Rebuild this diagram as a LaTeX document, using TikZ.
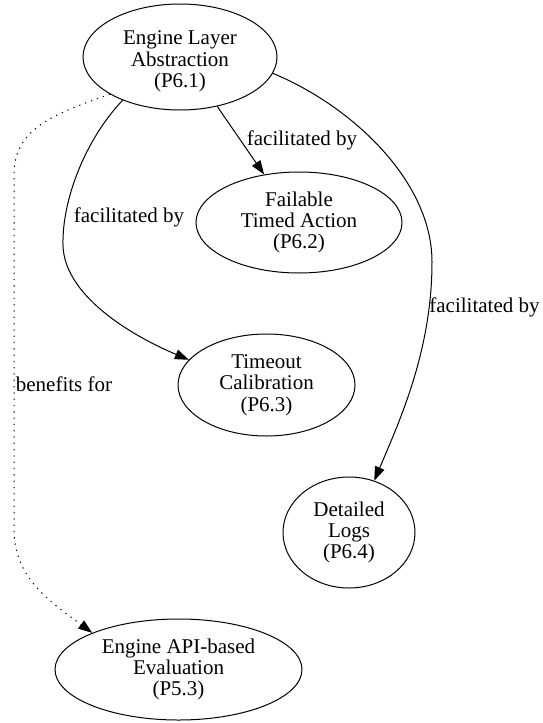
\documentclass[tikz,border=0pt]{standalone}
\usepackage{fontspec}
\setmainfont{Liberation Serif}
\usetikzlibrary{shapes.geometric,arrows.meta}
% taller first line, used to set a node's text a little lower
\newcommand\lowerstrut{\rule{0pt}{22.5pt}}
\begin{document}
\begin{tikzpicture}[x=1pt,y=-1pt,
  labelfont/.style={font=\fontsize{21pt}{21.3pt}\selectfont},
  topic/.style={draw, ellipse, inner sep=0pt, align=center, line width=1pt, labelfont},
  link/.style={-{Triangle[length=14pt,width=10pt]}, line width=1pt},
  weaklink/.style={link, dash pattern=on 1.3pt off 5pt},
  elabel/.style={anchor=base, inner sep=0pt, labelfont}]
\useasboundingbox (0,0) rectangle (543,723);

% pattern nodes
\node[topic, minimum width=194pt, minimum height=106pt] (p61) at (180,57)
  {\lowerstrut Engine Layer\\Abstraction\\(P6.1)};
\node[topic, minimum width=206pt, minimum height=101pt] (p62) at (299,222.5)
  {Failable\\Timed Action\\(P6.2)};
\node[topic, minimum width=177pt, minimum height=102pt] (p63) at (266.5,385)
  {Timeout\\Calibration\\(P6.3)};
\node[topic, minimum width=132pt, minimum height=111pt] (p64) at (349,532.5)
  {Detailed\\Logs\\(P6.4)};
\node[topic, minimum width=247pt, minimum height=101pt] (p53) at (178.5,669.5)
  {Engine API-based\\Evaluation\\(P5.3)};

% relations
\draw[link] (p61.-53) -- (p62.126.5);
\draw[link] (p61.-143) .. controls (85,140) and (62,200) .. (63,245)
  .. controls (64,295) and (130,335) .. (p63.162);
\draw[link] (p61.-10.8) .. controls (350,105) and (432,180) .. (432,262)
  .. controls (432,350) and (400,420) .. (p64.64);
\draw[weaklink] (p61.-152) .. controls (50,115) and (14,130) .. (14,175)
  -- (14,530) .. controls (14,580) and (55,605) .. (p53.157);

% relation labels
\node[elabel] (l1) at (302,145) {facilitated by};
\node[elabel] (l2) at (129,222) {facilitated by};
\node[elabel] (l3) at (484.5,312) {facilitated by};
\node[elabel] (l4) at (64,391) {benefits for};
\end{tikzpicture}
\end{document}
